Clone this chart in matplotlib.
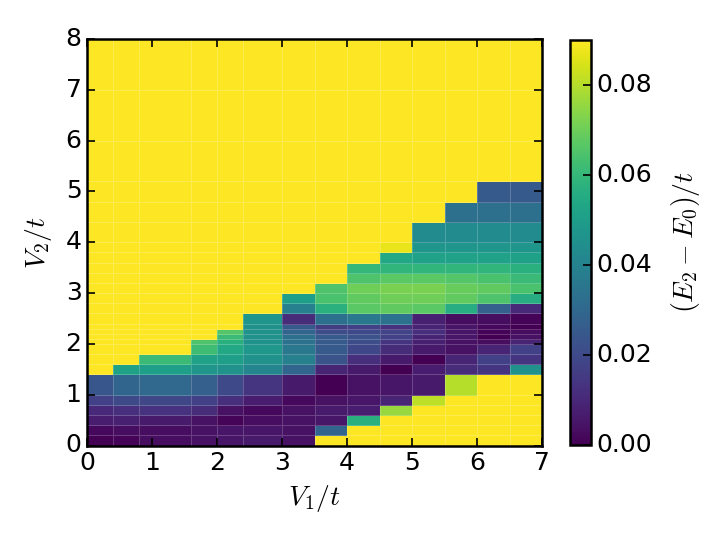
import numpy as np
import matplotlib
matplotlib.use("Agg")
import matplotlib.pyplot as plt

plt.style.use("classic")
plt.rcParams["figure.facecolor"] = "white"
plt.rcParams["savefig.facecolor"] = "white"
plt.rcParams["font.size"] = 18
plt.rcParams["mathtext.fontset"] = "cm"
plt.rcParams["axes.linewidth"] = 1.8

Y = 0.09  # saturated (yellow) cells

# cell edges
v1 = [0, 0.4, 0.8, 1.6, 2.0, 2.4, 3.0, 3.5, 4.0, 4.5, 5.0, 5.5, 6.0, 6.5, 7.0]
v2 = [0, 0.2, 0.4, 0.6, 0.8, 1.0, 1.4, 1.6, 1.8, 2.0, 2.1, 2.2, 2.3, 2.4,
      2.6, 2.8, 3.0, 3.2, 3.4, 3.6, 3.8, 4.0, 4.4, 4.8, 5.2, 6.0, 7.0, 8.0]

# gap (E2-E0)/t, one row per V2 cell, bottom to top
gap = [
    [0.000, 0.001, 0.003, 0.004, 0.005, 0.006, 0.004, Y, Y, Y, Y, Y, Y, Y],
    [0.002, 0.003, 0.003, 0.004, 0.005, 0.005, 0.004, 0.029, Y, Y, Y, Y, Y, Y],
    [0.007, 0.008, 0.006, 0.004, 0.001, 0.003, 0.004, 0.005, 0.057, Y, Y, Y, Y, Y],
    [0.010, 0.012, 0.013, 0.011, 0.004, 0.002, 0.004, 0.006, 0.007, 0.076, Y, Y, Y, Y],
    [0.017, 0.020, 0.019, 0.017, 0.012, 0.007, 0.002, 0.004, 0.005, 0.009, 0.081, Y, Y, Y],
    [0.024, 0.029, 0.030, 0.027, 0.020, 0.014, 0.006, 0.000, 0.004, 0.005, 0.006, 0.080, Y, Y],
    [Y, 0.051, 0.050, 0.047, 0.045, 0.041, 0.029, 0.009, 0.006, 0.000, 0.007, 0.011, 0.014, 0.045],
    [Y, Y, 0.061, 0.052, 0.050, 0.045, 0.039, 0.023, 0.012, 0.006, 0.000, 0.009, 0.017, 0.014],
    [Y, Y, Y, 0.062, 0.054, 0.048, 0.036, 0.025, 0.019, 0.011, 0.006, 0.004, 0.009, 0.017],
    [Y, Y, Y, 0.065, 0.057, 0.046, 0.034, 0.025, 0.021, 0.014, 0.008, 0.004, 0.003, 0.009],
    [Y, Y, Y, Y, 0.061, 0.045, 0.033, 0.025, 0.023, 0.017, 0.009, 0.005, 0.000, 0.004],
    [Y, Y, Y, Y, 0.066, 0.045, 0.029, 0.021, 0.020, 0.018, 0.012, 0.005, 0.001, 0.003],
    [Y, Y, Y, Y, Y, 0.045, 0.025, 0.016, 0.017, 0.013, 0.009, 0.005, 0.002, 0.000],
    [Y, Y, Y, Y, Y, 0.047, 0.011, 0.033, 0.036, 0.034, 0.008, 0.003, 0.003, 0.001],
    [Y, Y, Y, Y, Y, Y, 0.039, 0.057, 0.067, 0.068, 0.067, 0.056, 0.027, 0.010],
    [Y, Y, Y, Y, Y, Y, 0.050, 0.064, 0.068, 0.070, 0.070, 0.068, 0.065, 0.056],
    [Y, Y, Y, Y, Y, Y, Y, 0.065, 0.070, 0.072, 0.072, 0.069, 0.068, 0.064],
    [Y, Y, Y, Y, Y, Y, Y, Y, 0.065, 0.067, 0.067, 0.066, 0.064, 0.061],
    [Y, Y, Y, Y, Y, Y, Y, Y, 0.060, 0.059, 0.059, 0.059, 0.059, 0.057],
    [Y, Y, Y, Y, Y, Y, Y, Y, Y, 0.054, 0.052, 0.052, 0.052, 0.051],
    [Y, Y, Y, Y, Y, Y, Y, Y, Y, 0.087, 0.047, 0.047, 0.047, 0.047],
    [Y, Y, Y, Y, Y, Y, Y, Y, Y, Y, 0.043, 0.043, 0.043, 0.043],
    [Y, Y, Y, Y, Y, Y, Y, Y, Y, Y, Y, 0.033, 0.033, 0.033],
    [Y, Y, Y, Y, Y, Y, Y, Y, Y, Y, Y, Y, 0.025, 0.025],
    [Y] * 14,
    [Y] * 14,
    [Y] * 14,
]

fig = plt.figure(figsize=(7.2, 5.4), dpi=100)
ax = fig.add_axes([0.121, 0.175, 0.632, 0.753])
cax = fig.add_axes([0.792, 0.176, 0.029, 0.750])

mesh = ax.pcolormesh(v1, v2, np.array(gap), cmap="viridis", vmin=0, vmax=0.09,
                     edgecolors=(1, 1, 1, 0.2), linewidth=0.5)
ax.set_xlim(0, 7)
ax.set_ylim(0, 8)
ax.set_xlabel(r"$V_1/t$", fontsize=20, labelpad=6)
ax.set_ylabel(r"$V_2/t$", fontsize=20, labelpad=8)
ax.tick_params(length=6, width=1.2)

cb = fig.colorbar(mesh, cax=cax, ticks=[0, 0.02, 0.04, 0.06, 0.08], format="%.2f")
cb.set_label(r"$(E_2-E_0)/t$", fontsize=20, labelpad=12)
cb.outline.set_linewidth(1.8)
cax.tick_params(length=6, width=1.2)

fig.savefig("out.png", dpi=100)
